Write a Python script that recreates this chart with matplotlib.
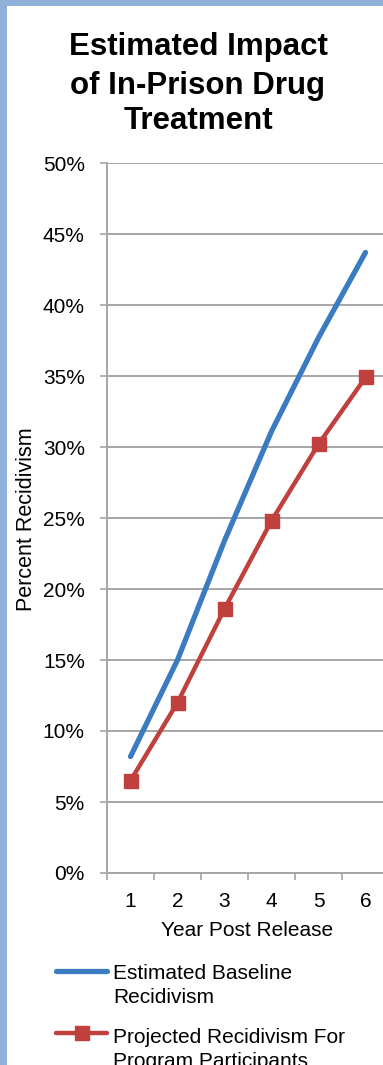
import matplotlib
matplotlib.use("Agg")
import matplotlib.pyplot as plt
from matplotlib.lines import Line2D
from matplotlib.patches import Rectangle

plt.rcParams['font.family'] = ['Liberation Sans', 'DejaVu Sans']

# ---- data ----
years = [1, 2, 3, 4, 5, 6]
year_labels = ['1', '2', '3', '4', '5', '6']
baseline = [8.2, 15.0, 23.4, 31.1, 37.7, 43.7]
program = [6.5, 12.0, 18.6, 24.8, 30.2, 34.9]
y_ticks = [0, 5, 10, 15, 20, 25, 30, 35, 40, 45, 50]
y_tick_labels = [f'{v}%' for v in y_ticks]
title_lines = ['Estimated Impact', 'of In-Prison Drug', 'Treatment']
series_names = [['Estimated Baseline', 'Recidivism'],
                ['Projected Recidivism For', 'Program Participants']]

BLUE = '#3B7BC1'
RED = '#C0403E'
GRID = '#A6A6A6'
FS = 15

W, H = 383, 1065
fig = plt.figure(figsize=(W / 100, H / 100), dpi=100)
fig.patch.set_facecolor('white')

def fx(px):
    return px / W

def fy(py):
    return 1 - py / H

# light blue frame strips (left and top)
fig.add_artist(Rectangle((0, 0), fx(7), 1, transform=fig.transFigure,
                         facecolor='#8FB0D8', edgecolor='none', zorder=0))
fig.add_artist(Rectangle((0, fy(6)), 1, 6 / H, transform=fig.transFigure,
                         facecolor='#8FB0D8', edgecolor='none', zorder=0))

# axes: left 107px, right 389px (beyond image), top 163, bottom 873
ax = fig.add_axes([fx(107), fy(873), (389 - 107) / W, (873 - 163) / H])
ax.set_facecolor('white')
ax.set_xlim(0.5, 6.5)
ax.set_ylim(0, 50)

ax.plot(years, baseline, color=BLUE, lw=3.8, solid_capstyle='round',
        solid_joinstyle='round', zorder=3)
ax.plot(years, program, color=RED, lw=3.2, marker='s', markersize=9.5,
        markerfacecolor=RED, markeredgecolor=RED, solid_joinstyle='round', zorder=4)

# y axis
ax.set_yticks(y_ticks)
ax.set_yticklabels(y_tick_labels, fontsize=FS, color='#000000')
ax.yaxis.grid(True, color=GRID, lw=1.4)
ax.tick_params(axis='y', length=5, width=1.2, color=GRID, pad=11)

# x axis: labels at categories, tick marks at boundaries
ax.set_xticks(years)
ax.set_xticklabels(year_labels, fontsize=FS)
ax.set_xticks([0.5 + i for i in range(7)], minor=True)
ax.tick_params(axis='x', which='major', length=0, pad=14)
ax.tick_params(axis='x', which='minor', length=5, width=1.2, color=GRID)

for s in ['top', 'right']:
    ax.spines[s].set_visible(False)
for s in ['left', 'bottom']:
    ax.spines[s].set_color(GRID)
    ax.spines[s].set_linewidth(1.4)
ax.set_axisbelow(True)

# title
for line, by in zip(title_lines, [55, 94, 129]):
    fig.text(fx(198), fy(by), line, fontsize=22.5, fontweight='bold',
             ha='center', va='baseline')

# axis labels
fig.text(fx(247), fy(936), 'Year Post Release', fontsize=FS, ha='center', va='baseline')
fig.text(fx(27), fy(519), 'Percent Recidivism', fontsize=15.5, rotation=90,
         ha='center', va='center')

# legend (manual, matching Excel layout)
fig.add_artist(Line2D([fx(56), fx(107)], [fy(971), fy(971)], transform=fig.transFigure,
                      color=BLUE, lw=3.8, solid_capstyle='round'))
fig.add_artist(Line2D([fx(56), fx(107)], [fy(1033), fy(1033)], transform=fig.transFigure,
                      color=RED, lw=3.2, solid_capstyle='round'))
fig.add_artist(Line2D([fx(81.5)], [fy(1033)], transform=fig.transFigure,
                      color=RED, marker='s', markersize=9.5, lw=0))
for lines, base in zip(series_names, [979, 1043]):
    for i, ln in enumerate(lines):
        fig.text(fx(113), fy(base + 24 * i), ln, fontsize=FS, ha='left', va='baseline')

fig.savefig('out.png', dpi=100)
